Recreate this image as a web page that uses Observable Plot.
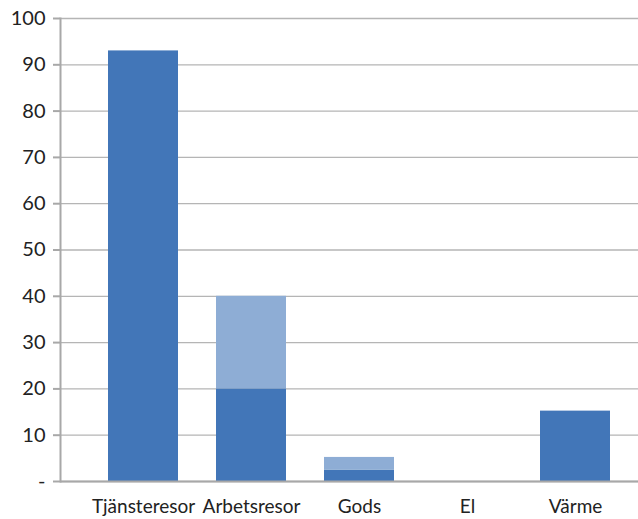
<!DOCTYPE html>
<html><head><meta charset="utf-8">
<script src="https://cdn.jsdelivr.net/npm/d3@7"></script>
<script src="https://cdn.jsdelivr.net/npm/@observablehq/plot@0.6"></script>
<style>body{margin:0;background:#fff;} svg{display:block;}</style>
</head><body><div id="chart"></div>
<script>
const categories = ["Tjänsteresor", "Arbetsresor", "Gods", "El", "Värme"];
const seriesDark = [93, 20, 2.4, 0, 15.2];
const seriesLight = [0, 20, 2.8, 0, 0];
const yTicks = [0, 10, 20, 30, 40, 50, 60, 70, 80, 90, 100];

const rows = [];
categories.forEach((c, i) => {
  rows.push({cat: c, series: "dark", value: seriesDark[i]});
  rows.push({cat: c, series: "light", value: seriesLight[i]});
});

const chart = Plot.plot({
  width: 638, height: 519,
  marginLeft: 60, marginRight: 0, marginTop: 18, marginBottom: 38,
  style: {fontFamily: "Lato, 'Open Sans', sans-serif", fontSize: "20px", color: "#222", background: "#fff"},
  x: {domain: categories, range: [60, 658], paddingInner: 0.348, paddingOuter: 0.4217, label: null},
  y: {domain: [0, 100], label: null},
  color: {domain: ["dark", "light"], range: ["#4276b8", "#8eadd5"]},
  marks: [
    Plot.gridY(yTicks, {stroke: "#b5b5b5", strokeOpacity: 1, strokeWidth: 1.3}),
    Plot.barY(rows, {x: "cat", y: "value", fill: "series", order: ["dark", "light"]}),
    Plot.ruleY([0], {stroke: "#a8a8a8", strokeWidth: 2}),
    Plot.frame({anchor: "left", stroke: "#a8a8a8", strokeWidth: 2}),
    Plot.axisY(yTicks, {tickSize: 7, tickPadding: 8, stroke: "#a8a8a8", strokeWidth: 2, fontSize: 20,
      tickFormat: d => d === 0 ? "-" : String(d), label: null}),
    Plot.axisX({tickSize: 0, tickPadding: 18, fontSize: 19, label: null})
  ]
});
document.getElementById("chart").appendChild(chart);
</script></body></html>
